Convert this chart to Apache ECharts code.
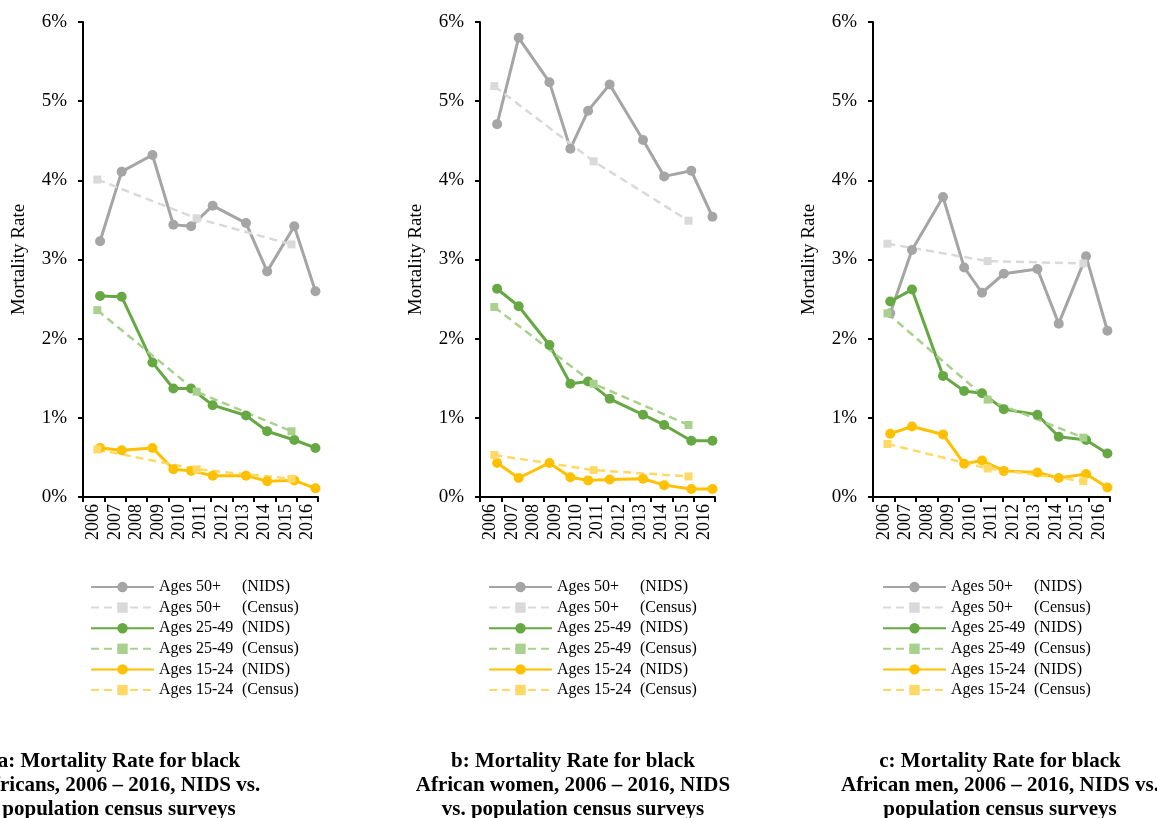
<!DOCTYPE html>
<html>
<head>
<meta charset="utf-8">
<script src="https://cdn.jsdelivr.net/npm/echarts@6/dist/echarts.min.js"></script>
<style>html,body{margin:0;padding:0;background:#fff;}#c{width:1157px;height:818px;}</style>
</head>
<body>
<div id="c"></div>
<script>
const years = ['2006','2007','2008','2009','2010','2011','2012','2013','2014','2015','2016'];
const yTicks = [0, 1, 2, 3, 4, 5, 6];
const nidsX = [2006.8, 2007.81, 2009.25, 2010.23, 2011.06, 2012.07, 2013.63, 2014.62, 2015.89, 2016.88];
const censusX = [2006.67, 2011.32, 2015.76];

const a50N = [3.23, 4.11, 4.32, 3.44, 3.42, 3.68, 3.46, 2.85, 3.42, 2.60];
const a50C = [4.01, 3.52, 3.19];
const a25N = [2.54, 2.53, 1.70, 1.37, 1.37, 1.16, 1.03, 0.83, 0.72, 0.62];
const a25C = [2.36, 1.33, 0.83];
const a15N = [0.62, 0.59, 0.62, 0.35, 0.33, 0.27, 0.27, 0.20, 0.21, 0.11];
const a15C = [0.60, 0.35, 0.23];

const b50N = [4.71, 5.80, 5.24, 4.40, 4.88, 5.21, 4.51, 4.05, 4.12, 3.54];
const b50C = [5.19, 4.24, 3.49];
const b25N = [2.63, 2.41, 1.92, 1.43, 1.46, 1.24, 1.04, 0.91, 0.71, 0.71];
const b25C = [2.40, 1.43, 0.91];
const b15N = [0.43, 0.24, 0.43, 0.25, 0.21, 0.22, 0.23, 0.15, 0.10, 0.10];
const b15C = [0.53, 0.34, 0.26];

const c50N = [2.32, 3.12, 3.79, 2.90, 2.58, 2.82, 2.88, 2.19, 3.04, 2.10];
const c50C = [3.20, 2.98, 2.95];
const c25N = [2.47, 2.62, 1.53, 1.34, 1.31, 1.11, 1.04, 0.76, 0.72, 0.55];
const c25C = [2.32, 1.23, 0.75];
const c15N = [0.80, 0.89, 0.79, 0.42, 0.46, 0.33, 0.31, 0.24, 0.29, 0.12];
const c15C = [0.67, 0.36, 0.20];

const seriesNames = ['Ages 50+ (NIDS)', 'Ages 50+ (Census)', 'Ages 25-49 (NIDS)', 'Ages 25-49 (Census)', 'Ages 15-24 (NIDS)', 'Ages 15-24 (Census)'];
const captions = [
  'a: Mortality Rate for black\nAfricans, 2006 \u2013 2016, NIDS vs.\npopulation census surveys',
  'b: Mortality Rate for black\nAfrican women, 2006 \u2013 2016, NIDS\nvs. population census surveys',
  'c: Mortality Rate for black\nAfrican men, 2006 \u2013 2016, NIDS vs.\npopulation census surveys'
];

const panels = [
  [a50N, a50C, a25N, a25C, a15N, a15C],
  [b50N, b50C, b25N, b25C, b15N, b15C],
  [c50N, c50C, c25N, c25C, c15N, c15C]
];

const FONT = 'Liberation Serif';
const gridLefts = [83, 480, 873];
const gridWidths = [235, 235, 237];
const legendLefts = [90, 488, 882];
const captionX = [119, 573, 1000];
const styles = [
  {color: '#A5A5A5', dash: false, symbol: 'circle'},
  {color: '#D9D9D9', dash: true, symbol: 'rect'},
  {color: '#66A843', dash: false, symbol: 'circle'},
  {color: '#A9D18E', dash: true, symbol: 'rect'},
  {color: '#FFC000', dash: false, symbol: 'circle'},
  {color: '#FFD966', dash: true, symbol: 'rect'}
];

const grids = [], xAxes = [], yAxes = [], series = [], legends = [], graphics = [];
panels.forEach((p, i) => {
  grids.push({left: gridLefts[i], top: 22, width: gridWidths[i], height: 475, containLabel: false});
  xAxes.push({
    type: 'category', gridIndex: i, data: years, boundaryGap: true,
    axisLine: {lineStyle: {color: '#000', width: 2}},
    axisTick: {show: true, interval: 0, length: 5, lineStyle: {color: '#000', width: 2}},
    axisLabel: {interval: 0, rotate: 90, fontFamily: FONT, fontSize: 18, color: '#000', margin: 7},
    splitLine: {show: false}
  });
  xAxes.push({type: 'value', gridIndex: i, min: 2006, max: 2017, show: false});
  yAxes.push({
    type: 'value', gridIndex: i, min: yTicks[0], max: yTicks[yTicks.length - 1], interval: 1,
    name: 'Mortality Rate', nameLocation: 'middle', nameGap: 54,
    nameTextStyle: {fontFamily: FONT, fontSize: 19, color: '#000'},
    axisLine: {show: true, lineStyle: {color: '#000', width: 2}},
    axisTick: {show: true, length: 5, lineStyle: {color: '#000', width: 2}},
    axisLabel: {formatter: '{value}%', fontFamily: FONT, fontSize: 19, color: '#000', margin: 16},
    splitLine: {show: false}
  });
  p.forEach((vals, k) => {
    const st = styles[k];
    const xs = st.dash ? censusX : nidsX;
    series.push({
      name: seriesNames[k], type: 'line', xAxisIndex: i * 2 + 1, yAxisIndex: i,
      data: vals.map((v, j) => [xs[j], v]),
      symbol: st.symbol, symbolSize: st.dash ? 8 : 10,
      showSymbol: true, animation: false,
      itemStyle: {color: st.color},
      lineStyle: {color: st.color, width: st.dash ? 2.5 : 3, type: st.dash ? [8, 5] : 'solid'},
      emphasis: {disabled: true}
    });
  });
  legends.push({
    left: legendLefts[i], top: 579, orient: 'vertical', itemWidth: 63, itemHeight: 13, itemGap: 4.6,
    padding: 0, selectedMode: false, data: seriesNames,
    textStyle: {fontFamily: FONT, fontSize: 16, lineHeight: 16, color: '#000',
      rich: {a: {width: 83, fontFamily: FONT, fontSize: 16, lineHeight: 16, color: '#000'},
             b: {fontFamily: FONT, fontSize: 16, lineHeight: 16, color: '#000'}}},
    formatter: function (name) {
      const m = name.match(/^(.*) (\(.*\))$/);
      return '{a|' + m[1] + '}{b|' + m[2] + '}';
    }
  });
  graphics.push({
    type: 'text', x: captionX[i], y: 750,
    style: {text: captions[i], font: 'bold 21px "Liberation Serif"', fill: '#000', textAlign: 'center', textVerticalAlign: 'top', lineHeight: 24}
  });
});

const chart = echarts.init(document.getElementById('c'), null, {renderer: 'canvas'});
chart.setOption({
  animation: false,
  backgroundColor: '#fff',
  grid: grids, xAxis: xAxes, yAxis: yAxes, series: series, legend: legends,
  graphic: graphics
});
</script>
</body>
</html>
